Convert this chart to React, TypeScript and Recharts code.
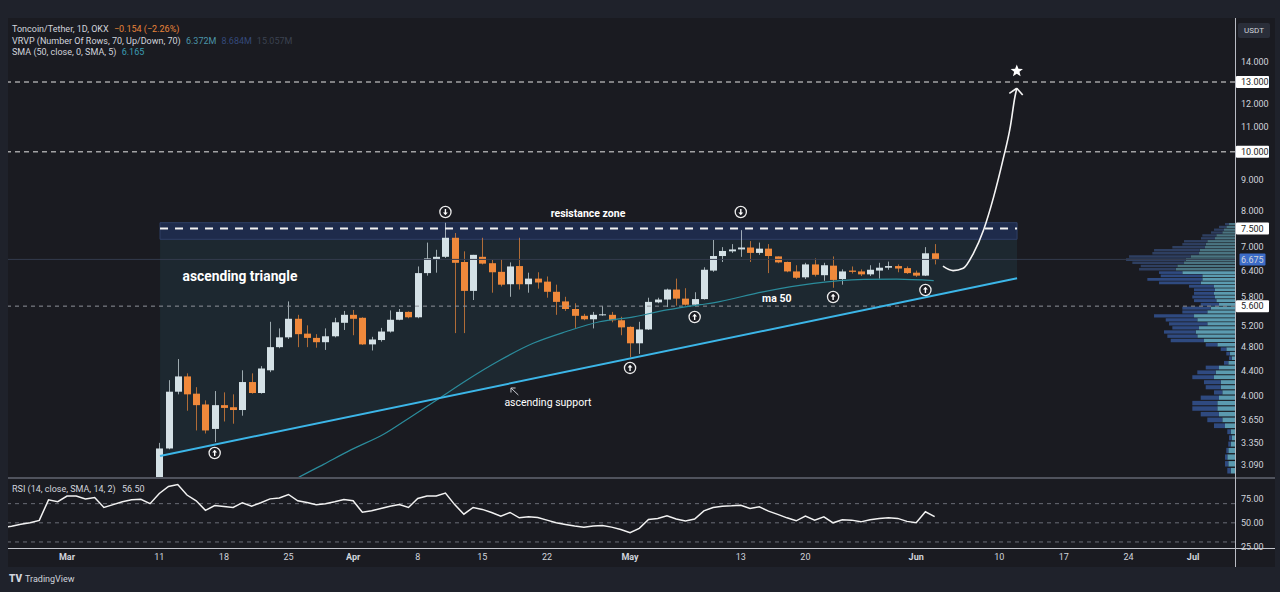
import React from "react";
import {
  ComposedChart,
  Bar,
  Line,
  Area,
  Scatter,
  XAxis,
  YAxis,
  ReferenceLine,
  ReferenceArea,
  ReferenceDot,
} from "recharts";

// ---------------- data ----------------
// x values are day indexes counted from 1 March 2024 (0 = Mar 1)
const CANDLE_FIRST_DAY = 10; // 11 Mar
const opens = [2.75, 3.28, 4.06, 4.3, 4.03, 3.87, 3.53, 3.86, 3.83, 3.79, 4.21, 4.04, 4.4, 4.8, 4.98, 5.34, 5.05, 4.97, 4.89, 5.0, 5.26, 5.42, 5.36, 4.85, 4.93, 5.09, 5.32, 5.48, 5.37, 6.34, 6.68, 6.74, 7.24, 6.61, 5.93, 6.74, 6.58, 6.37, 6.08, 6.51, 6.08, 6.21, 6.14, 5.91, 5.7, 5.54, 5.4, 5.33, 5.41, 5.42, 5.31, 5.18, 4.87, 5.13, 5.68, 5.74, 5.96, 5.76, 5.63, 5.75, 6.4, 6.76, 6.88, 6.93, 6.98, 6.84, 6.95, 6.75, 6.61, 6.38, 6.24, 6.55, 6.29, 6.52, 6.2, 6.4, 6.38, 6.31, 6.4, 6.47, 6.51, 6.46, 6.35, 6.28, 6.83];
const highs = [3.35, 4.24, 4.59, 4.35, 4.13, 3.93, 4.07, 4.05, 4.02, 4.4, 4.35, 4.47, 5.28, 5.15, 5.7, 5.42, 5.21, 5.04, 5.15, 5.36, 5.5, 5.52, 5.37, 4.99, 5.16, 5.51, 5.54, 5.49, 6.5, 7.11, 6.92, 7.66, 7.37, 6.88, 6.79, 7.24, 6.66, 6.68, 6.6, 7.24, 6.35, 6.36, 6.26, 6.07, 5.8, 5.66, 5.44, 5.48, 5.6, 5.48, 5.38, 5.19, 5.28, 5.78, 5.78, 5.98, 6.21, 5.99, 5.9, 6.48, 7.18, 6.99, 7.07, 7.45, 7.15, 7.11, 7.07, 6.75, 6.62, 6.53, 6.59, 6.7, 6.59, 6.75, 6.43, 6.5, 6.43, 6.53, 6.59, 6.62, 6.55, 6.5, 6.4, 6.99, 7.07];
const lows = [2.7, 3.27, 4.02, 3.78, 3.51, 3.47, 3.36, 3.63, 3.6, 3.71, 4.03, 4.03, 4.37, 4.78, 4.95, 4.8, 4.8, 4.79, 4.75, 4.98, 5.12, 5.02, 4.84, 4.74, 4.9, 5.07, 5.31, 5.35, 5.35, 6.28, 6.35, 6.71, 5.06, 5.06, 5.73, 6.55, 5.89, 6.03, 5.8, 5.96, 5.89, 5.98, 5.78, 5.42, 5.5, 5.16, 5.31, 5.15, 5.4, 5.27, 5.02, 4.62, 4.68, 5.12, 5.66, 5.58, 5.61, 5.61, 5.6, 5.74, 6.37, 6.61, 6.84, 6.74, 6.61, 6.79, 6.34, 6.58, 6.36, 6.2, 6.2, 6.26, 6.16, 6.0, 6.07, 6.33, 6.27, 6.27, 6.21, 6.42, 6.36, 6.32, 6.25, 6.27, 6.55];
const closes = [3.28, 4.06, 4.3, 4.02, 3.86, 3.51, 3.86, 3.82, 3.79, 4.21, 4.04, 4.43, 4.8, 4.98, 5.34, 5.04, 4.97, 4.89, 5.0, 5.27, 5.42, 5.34, 4.85, 4.94, 5.09, 5.32, 5.48, 5.37, 6.34, 6.7, 6.74, 7.24, 6.59, 5.93, 6.79, 6.57, 6.36, 6.07, 6.5, 6.08, 6.21, 6.12, 5.91, 5.69, 5.54, 5.4, 5.33, 5.42, 5.43, 5.31, 5.17, 4.87, 5.13, 5.69, 5.74, 5.96, 5.76, 5.63, 5.75, 6.42, 6.76, 6.89, 6.93, 6.98, 6.84, 6.95, 6.76, 6.6, 6.38, 6.23, 6.55, 6.3, 6.53, 6.18, 6.38, 6.37, 6.31, 6.42, 6.47, 6.51, 6.45, 6.34, 6.28, 6.83, 6.675];

// SMA 50
const maDays = [22, 24.9, 27.8, 30.7, 34.3, 37.2, 40.1, 43.3, 46.9, 50.5, 54.1, 57.7, 61.4, 65, 68.6, 70, 75.4, 80.9, 86.3, 89.9, 93.9];
const maValues = [2.75, 2.93, 3.09, 3.26, 3.46, 3.69, 3.94, 4.24, 4.57, 4.87, 5.09, 5.28, 5.38, 5.52, 5.63, 5.67, 5.91, 6.1, 6.19, 6.2, 6.165];

// RSI (14) from 23 Feb (day -7)
const RSI_FIRST_DAY = -7;
const rsiValues = [45, 46.5, 48.5, 50, 52.5, 74, 72, 78, 78, 75, 76.5, 66, 69, 72, 74, 74.5, 70, 80.6, 88, 90, 79, 73, 63, 68, 67, 66, 71, 67.4, 71, 75, 76, 79.6, 73, 71.2, 69, 70, 72, 74.4, 73, 61, 62.5, 65, 67.4, 69.2, 66, 75.4, 78, 78, 81, 69, 59, 66, 64, 60.8, 57, 60.8, 55.2, 56.3, 55.6, 52.8, 50, 48.3, 46.6, 45.5, 46.6, 47.3, 45.5, 43.1, 39.6, 44.2, 53.5, 54.6, 57.3, 53.9, 51.8, 53.9, 62.5, 66, 67.4, 67.7, 68.4, 65, 66.7, 62.2, 58.8, 55.2, 52.1, 57, 52.8, 56.3, 50, 53.1, 52.8, 51, 53.1, 54.6, 55.2, 54.6, 51.5, 50, 61.5, 56.5];

// Volume profile (70 rows; the visible ones, from the top row down)
const VP_TOP = 7.662;
const VP_STEP = 0.0794;
const vpUp = [6, 8.7, 11, 12.7, 18.7, 20, 27.7, 29.3, 30, 35.3, 36, 44.3, 49.3, 51, 57.7, 59.3, 52.7, 32.7, 32.7, 34.3, 21, 20, 21, 20, 18.7, 16, 24.3, 27.7, 41, 37.7, 27.7, 36, 39.3, 37.7, 31, 17.7, 8.7, 5.3, 3.3, 6.7, 16, 19.3, 21, 14.3, 14.3, 12.7, 16, 17.7, 17.7, 16, 12.7, 10, 4.3, 3.3, 4.3, 6.7, 7.7, 6.7, 4.3];
const vpDown = [4, 7.3, 10, 11.3, 14, 14, 23.3, 23.4, 32.7, 45.7, 46.7, 61.7, 59.7, 51.7, 36.6, 36.7, 23.3, 41.6, 55, 41.7, 25, 21, 20, 22.7, 22.3, 18.3, 28.4, 25, 40, 31.6, 38.3, 26.7, 31.7, 30, 33.3, 11.6, 5.6, 3.4, 2.7, 4.3, 13.3, 18.4, 21.7, 16.7, 15, 8.3, 18.3, 25, 25, 18.3, 15, 11, 3.4, 2.7, 2.4, 2, 2.3, 3.3, 3.4];
const VP_DIM_ROWS = 16; // rows outside the value area (top)
const VP_DAYS_PER_UNIT = 0.1083; // profile width: volume units -> days on the time axis

// Price axis
const priceTicks = [14, 13, 12, 11, 10, 9, 8, 7.5, 7, 6.675, 6.4, 5.8, 5.6, 5.2, 4.8, 4.4, 4, 3.65, 3.35, 3.09];
const boxedLevels = [13, 10, 7.5, 5.6];
const CURRENT_PRICE = 6.675;

// Time axis
const dateTickDays = [0, 10, 17, 24, 31, 38, 45, 52, 61, 73, 80, 92, 101, 108, 115, 122];
const dateTickLabels = ["Mar", "11", "18", "25", "Apr", "8", "15", "22", "May", "13", "20", "Jun", "10", "17", "24", "Jul"];

// Drawings
const resistanceZone = { x1: 10.08, x2: 102.93, y1: 7.199, y2: 7.662 };
const supportLine = [
  { day: 10.08, price: 3.189 },
  { day: 102.93, price: 6.218 },
];
const triangleFill = [
  { day: 10.08, range: [3.189, 7.662] },
  { day: 102.93, range: [6.218, 7.662] },
];
const upMarks = [
  { day: 16, price: 3.225 },
  { day: 61, price: 4.44 },
  { day: 68, price: 5.376 },
  { day: 83, price: 5.796 },
  { day: 93, price: 5.95 },
];
const downMarks = [
  { day: 41, price: 7.976 },
  { day: 73, price: 7.976 },
];
const projection = [
  { day: 94.9, price: 6.51 },
  { day: 96.0, price: 6.4 },
  { day: 97.1, price: 6.456 },
  { day: 98.2, price: 6.83 },
  { day: 99.3, price: 7.455 },
  { day: 100.4, price: 8.45 },
  { day: 101.4, price: 9.7 },
  { day: 102.2, price: 10.99 },
  { day: 102.7, price: 12.3 },
  { day: 102.9, price: 12.7 },
];
const starPoint = [{ day: 102.9, price: 13.55 }];
const notes = [
  { day: 56.45, price: 7.947, text: "resistance zone", size: 10.5, weight: 700 },
  { day: 18.74, price: 6.272, text: "ascending triangle", size: 13.8, weight: 700 },
  { day: 52.1, price: 3.906, text: "ascending support", size: 10.5, weight: 400 },
  { day: 76.9, price: 5.774, text: "ma 50", size: 10.5, weight: 700 },
];

// ---------------- styling ----------------
const OUTER = "#1f222b";
const PANE = "#1a1b21";
const BULL = "#d4e1e6";
const BEAR = "#f0893b";
const TEXT = "#d1d4dc";
const FONT = "Roboto, 'DejaVu Sans', sans-serif";
const BODY_W = 7;

const X_DOMAIN: [number, number] = [-6.39, 126.54];
const P_DOMAIN: [number, number] = [2.9356, 16.535];

const candles = opens.map((o, i) => ({
  day: CANDLE_FIRST_DAY + i,
  open: o,
  high: highs[i],
  low: lows[i],
  close: closes[i],
}));
const maData = maDays.map((d, i) => ({ day: d, price: maValues[i] }));
const rsiData = rsiValues.map((v, i) => ({ day: RSI_FIRST_DAY + i, rsi: v }));

const Candle = (props: any) => {
  const { x, y, width, height, payload } = props;
  if (!payload || x == null || y == null || !isFinite(y) || !isFinite(height)) return null;
  const { open, close, high, low } = payload;
  const top = Math.min(y, y + height);
  const bottom = Math.max(y, y + height);
  const lh = Math.log(high);
  const ll = Math.log(low);
  const toY = (v: number) => top + ((lh - Math.log(v)) / (lh - ll)) * (bottom - top);
  const color = close >= open ? BULL : BEAR;
  const cx = Math.round(x + width / 2) + 0.5;
  const bTop = toY(Math.max(open, close));
  const bBot = toY(Math.min(open, close));
  return (
    <g>
      <line x1={cx} x2={cx} y1={top} y2={bottom} stroke={color} strokeOpacity={0.7} strokeWidth={1} />
      <rect x={cx - BODY_W / 2} y={bTop} width={BODY_W} height={Math.max(1, bBot - bTop)} fill={color} />
    </g>
  );
};

const Marker = (dir: "up" | "down") => (props: any) => {
  const { cx, cy } = props;
  if (cx == null || cy == null) return null;
  const s = dir === "up" ? 1 : -1;
  return (
    <g>
      <circle cx={cx} cy={cy} r={5.6} fill={PANE} stroke="#ececec" strokeWidth={1.3} />
      <line x1={cx} x2={cx} y1={cy + 3 * s} y2={cy - 1 * s} stroke="#fff" strokeWidth={1.4} />
      <path d={`M${cx - 2.4},${cy - 0.4 * s} L${cx},${cy - 3.2 * s} L${cx + 2.4},${cy - 0.4 * s} Z`} fill="#fff" />
    </g>
  );
};

const Star = (props: any) => {
  const { cx, cy } = props;
  if (cx == null) return null;
  const pts: string[] = [];
  for (let k = 0; k < 10; k++) {
    const r = k % 2 === 0 ? 6.5 : 2.8;
    const a = -Math.PI / 2 + (k * Math.PI) / 5;
    pts.push(`${cx + r * Math.cos(a)},${cy + r * Math.sin(a)}`);
  }
  return <polygon points={pts.join(" ")} fill="#fff" />;
};

const PriceTick = (props: any) => {
  const { x, y, payload } = props;
  const v = payload.value as number;
  const boxed = boxedLevels.includes(v);
  const blue = v === CURRENT_PRICE;
  return (
    <g>
      {boxed && <rect x={x - 5} y={y - 6} width={33} height={12} fill="#ffffff" rx={1} />}
      {blue && <rect x={x - 1.5} y={y - 6} width={26} height={12} fill="#3c6cc8" rx={1} />}
      <text x={x} y={y} dy={3.2} fontSize={9} fontFamily={FONT} fill={boxed ? "#1a1b21" : TEXT}>
        {v.toFixed(3)}
      </text>
    </g>
  );
};

const RsiTick = (props: any) => {
  const { x, y, payload } = props;
  return (
    <text x={x} y={y} dy={3.2} fontSize={9} fontFamily={FONT} fill={TEXT}>
      {(payload.value as number).toFixed(2)}
    </text>
  );
};

const DateTick = (props: any) => {
  const { x, y, payload } = props;
  const idx = dateTickDays.indexOf(payload.value);
  const label = idx >= 0 ? dateTickLabels[idx] : "";
  const month = /[A-Za-z]/.test(label);
  return (
    <text x={x} y={y} dy={4} textAnchor="middle" fontSize={9} fontWeight={month ? 700 : 400} fontFamily={FONT} fill={TEXT}>
      {label}
    </text>
  );
};

const Note = (n: (typeof notes)[number]) => (props: any) => {
  const { cx, cy } = props;
  if (cx == null) return null;
  return (
    <text x={cx} y={cy} dy={n.size * 0.35} textAnchor="middle" fontSize={n.size} fontWeight={n.weight} fontFamily={FONT} fill="#ffffff">
      {n.text}
    </text>
  );
};

function PriceChart() {
  const right = X_DOMAIN[1];
  return (
    <ComposedChart width={1267} height={460} data={candles} margin={{ top: 0, right: 0, bottom: 0, left: 0 }}>
      <XAxis dataKey="day" type="number" domain={X_DOMAIN} allowDataOverflow hide />
      <YAxis
        orientation="right"
        type="number"
        scale="log"
        domain={P_DOMAIN}
        allowDataOverflow
        width={40}
        ticks={priceTicks}
        interval={0}
        tick={<PriceTick />}
        tickLine={false}
        tickSize={0}
        tickMargin={6}
        axisLine={false}
      />

      <Area
        data={triangleFill}
        dataKey="range"
        type="linear"
        fill="#1d2830"
        fillOpacity={1}
        stroke="none"
        isAnimationActive={false}
        activeDot={false}
      />
      <ReferenceArea
        x1={resistanceZone.x1}
        x2={resistanceZone.x2}
        y1={resistanceZone.y1}
        y2={resistanceZone.y2}
        fill="#1e2b4b"
        fillOpacity={1}
        stroke="#2f3f66"
        strokeWidth={1}
      />

      {vpUp.map((u, i) => {
        const top = VP_TOP - i * VP_STEP;
        const bot = top - VP_STEP;
        const pad = VP_STEP * 0.1;
        const dim = i < VP_DIM_ROWS;
        return (
          <ReferenceArea
            key={"u" + i}
            x1={right - u * VP_DAYS_PER_UNIT}
            x2={right}
            y1={bot + pad}
            y2={top - pad}
            fill={dim ? "#4a7482" : "#5b9bb0"}
            fillOpacity={1}
            stroke="none"
            ifOverflow="hidden"
          />
        );
      })}
      {vpDown.map((d, i) => {
        const top = VP_TOP - i * VP_STEP;
        const bot = top - VP_STEP;
        const pad = VP_STEP * 0.1;
        const dim = i < VP_DIM_ROWS;
        return (
          <ReferenceArea
            key={"d" + i}
            x1={right - (vpUp[i] + d) * VP_DAYS_PER_UNIT}
            x2={right - vpUp[i] * VP_DAYS_PER_UNIT}
            y1={bot + pad}
            y2={top - pad}
            fill={dim ? "#2e3f61" : "#2f4a80"}
            fillOpacity={1}
            stroke="none"
            ifOverflow="hidden"
          />
        );
      })}

      <ReferenceLine y={13} stroke="#e6e6e6" strokeDasharray="5 4" strokeWidth={1} />
      <ReferenceLine y={10} stroke="#e6e6e6" strokeDasharray="5 4" strokeWidth={1} />
      <ReferenceLine y={5.6} stroke="#8e919a" strokeDasharray="4 4" strokeWidth={1} />
      <ReferenceLine y={CURRENT_PRICE} stroke="#343c4e" strokeWidth={1} />
      <ReferenceLine
        segment={[
          { x: resistanceZone.x1, y: 7.5 },
          { x: resistanceZone.x2, y: 7.5 },
        ]}
        stroke="#f2f2f2"
        strokeWidth={2}
        strokeDasharray="8 7"
      />

      <Line data={maData} dataKey="price" type="monotone" stroke="#2b8c9c" strokeWidth={1.2} dot={false} activeDot={false} isAnimationActive={false} />
      <Line data={supportLine} dataKey="price" type="linear" stroke="#3cb6e8" strokeWidth={2} dot={false} activeDot={false} isAnimationActive={false} />

      <Bar dataKey={(d: any) => [d.low, d.high]} barSize={BODY_W} shape={(p: any) => <Candle {...p} />} isAnimationActive={false} />

      <Scatter data={upMarks} dataKey="price" shape={Marker("up")} isAnimationActive={false} />
      <Scatter data={downMarks} dataKey="price" shape={Marker("down")} isAnimationActive={false} />

      <Line data={projection} dataKey="price" type="monotone" stroke="#f4f4f4" strokeWidth={1.6} dot={false} activeDot={false} isAnimationActive={false} />
      <ReferenceLine segment={[{ x: 102.9, y: 12.7 }, { x: 102.09, y: 12.46 }]} stroke="#f4f4f4" strokeWidth={1.6} />
      <ReferenceLine segment={[{ x: 102.9, y: 12.7 }, { x: 103.54, y: 12.38 }]} stroke="#f4f4f4" strokeWidth={1.6} />
      <Scatter data={starPoint} dataKey="price" shape={Star} isAnimationActive={false} />

      <ReferenceLine segment={[{ x: 48.9, y: 4.01 }, { x: 48.1, y: 4.117 }]} stroke="#c9cbd1" strokeWidth={1} />
      <ReferenceLine segment={[{ x: 48.1, y: 4.117 }, { x: 48.1, y: 4.048 }]} stroke="#c9cbd1" strokeWidth={1} />
      <ReferenceLine segment={[{ x: 48.1, y: 4.117 }, { x: 48.6, y: 4.117 }]} stroke="#c9cbd1" strokeWidth={1} />

      {notes.map((n) => (
        <ReferenceDot key={n.text} x={n.day} y={n.price} r={0} shape={Note(n)} />
      ))}
    </ComposedChart>
  );
}

function RsiChart() {
  return (
    <ComposedChart width={1267} height={89} data={rsiData} margin={{ top: 0, right: 0, bottom: 0, left: 0 }}>
      <XAxis
        dataKey="day"
        type="number"
        domain={X_DOMAIN}
        allowDataOverflow
        ticks={dateTickDays}
        interval={0}
        tick={<DateTick />}
        tickLine={false}
        axisLine={false}
        height={19}
      />
      <YAxis
        orientation="right"
        type="number"
        domain={[23.7, 96.8]}
        allowDataOverflow
        width={40}
        ticks={[25, 50, 75]}
        interval={0}
        tick={<RsiTick />}
        tickLine={false}
        tickSize={0}
        tickMargin={6}
        axisLine={false}
      />
      <ReferenceLine y={70} stroke="#6a6d76" strokeDasharray="4 4" />
      <ReferenceLine y={50} stroke="#6a6d76" strokeDasharray="4 4" />
      <ReferenceLine y={30} stroke="#6a6d76" strokeDasharray="4 4" />
      <Line dataKey="rsi" type="linear" stroke="#f2f2f2" strokeWidth={1.5} dot={false} activeDot={false} isAnimationActive={false} />
    </ComposedChart>
  );
}

export default function App() {
  const legendRow: React.CSSProperties = { position: "absolute", left: 12, fontSize: 9, whiteSpace: "nowrap", color: TEXT };
  return (
    <div style={{ position: "fixed", left: 0, top: 0, width: 1280, height: 592, background: OUTER, overflow: "hidden", fontFamily: FONT }}>
      <div style={{ position: "absolute", left: 8, top: 18, width: 1267, height: 549, background: PANE }} />
      <div style={{ position: "absolute", left: 8, top: 18 }}>
        <PriceChart />
      </div>
      <div style={{ position: "absolute", left: 8, top: 478 }}>
        <RsiChart />
      </div>
      {/* pane frame lines */}
      <div style={{ position: "absolute", left: 8, top: 476.5, width: 1267, height: 2, background: "#50535d" }} />
      <div style={{ position: "absolute", left: 8, top: 548, width: 1267, height: 1, background: "#c3c5cc" }} />
      <div style={{ position: "absolute", left: 1235, top: 18, width: 1, height: 549, background: "#b9bcc4" }} />

      {/* legend */}
      <div style={{ ...legendRow, top: 24 }}>
        Toncoin/Tether, 1D, OKX <span style={{ color: "#e8843a", marginLeft: 3 }}>−0.154 (−2.26%)</span>
      </div>
      <div style={{ ...legendRow, top: 35.5 }}>
        VRVP (Number Of Rows, 70, Up/Down, 70) <span style={{ color: "#4b95a8", marginLeft: 3 }}>6.372M</span>
        <span style={{ color: "#34497a", marginLeft: 5 }}>8.684M</span>
        <span style={{ color: "#3a4250", marginLeft: 5 }}>15.057M</span>
      </div>
      <div style={{ ...legendRow, top: 47 }}>
        SMA (50, close, 0, SMA, 5) <span style={{ color: "#3a9db3", marginLeft: 3 }}>6.165</span>
      </div>
      <div style={{ ...legendRow, top: 484 }}>
        RSI (14, close, SMA, 14, 2) <span style={{ marginLeft: 4 }}>56.50</span>
      </div>

      {/* currency box */}
      <div
        style={{
          position: "absolute",
          left: 1238,
          top: 23,
          width: 32,
          height: 15,
          background: "#2a2e39",
          color: TEXT,
          fontSize: 8,
          lineHeight: "15px",
          textAlign: "center",
          borderRadius: 2,
        }}
      >
        USDT
      </div>

      {/* footer */}
      <div style={{ position: "absolute", left: 9, top: 573, fontSize: 9, color: TEXT, whiteSpace: "nowrap" }}>
        <span style={{ fontWeight: 900, fontSize: 10, marginRight: 3 }}>TV</span>TradingView
      </div>
    </div>
  );
}
